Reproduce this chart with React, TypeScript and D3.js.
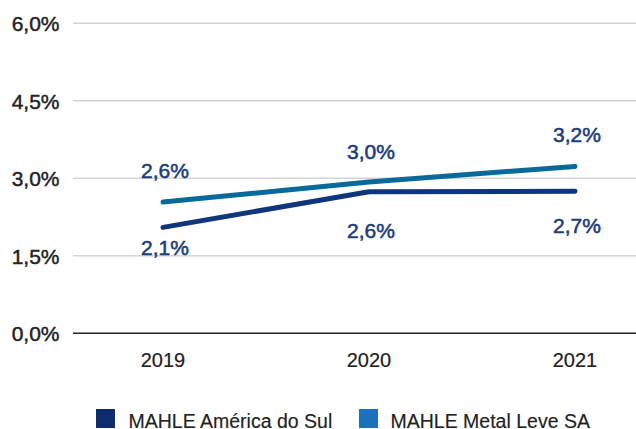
import React from "react";
import * as d3 from "d3";

const years = ["2019", "2020", "2021"];
const americaDoSul = [2.05, 2.74, 2.75];
const metalLeve = [2.54, 2.93, 3.23];
const americaLabels = ["2,1%", "2,6%", "2,7%"];
const metalLabels = ["2,6%", "3,0%", "3,2%"];
const yTicks = [0, 1.5, 3, 4.5, 6];
const seriesNames = ["MAHLE América do Sul", "MAHLE Metal Leve SA"];

const W = 636;
const H = 429;
const FONT = "'Liberation Sans', Arial, Helvetica, sans-serif";
const NAVY = "#0f367a";
const TEAL = "#08699b";
const LABEL = "#1a3d7c";
const americaLabelDy = [28, 46, 42];
const metalLabelDy = [-24, -23, -24];

export default function App() {
  const x = d3.scalePoint<string>().domain(years).range([163, 575]);
  const y = d3.scaleLinear().domain([0, 6]).range([333.3, 23.3]);
  const line = d3
    .line<number>()
    .x((_, i) => x(years[i]) as number)
    .y((d) => y(d));
  const fmt = (v: number) => d3.format(".1f")(v).replace(".", ",") + "%";

  return (
    <svg
      width={W}
      height={H}
      style={{ position: "absolute", left: 0, top: 0, background: "#fff" }}
      fontFamily={FONT}
    >
      {yTicks.map((t) => (
        <g key={t}>
          <line
            x1={73}
            x2={W}
            y1={y(t)}
            y2={y(t)}
            stroke={t === 0 ? "#222" : "#d4d4d4"}
            strokeWidth={t === 0 ? 1.6 : 1.4}
          />
          <text
            x={59.5}
            y={y(t) + 8}
            textAnchor="end"
            fontSize={21}
            fill="#222"
            stroke="#222"
            strokeWidth={0.45}
          >
            {fmt(t)}
          </text>
        </g>
      ))}
      {years.map((yr) => (
        <text
          key={yr}
          x={x(yr) as number}
          y={367}
          textAnchor="middle"
          fontSize={20}
          fill="#222"
          stroke="#222"
          strokeWidth={0.2}
        >
          {yr}
        </text>
      ))}
      <path
        d={line(metalLeve) || ""}
        fill="none"
        stroke={TEAL}
        strokeWidth={5}
        strokeLinecap="round"
        strokeLinejoin="round"
      />
      <path
        d={line(americaDoSul) || ""}
        fill="none"
        stroke={NAVY}
        strokeWidth={5}
        strokeLinecap="round"
        strokeLinejoin="round"
      />
      {metalLeve.map((v, i) => (
        <text
          key={"m" + i}
          x={(x(years[i]) as number) + 2}
          y={y(v) + metalLabelDy[i]}
          textAnchor="middle"
          fontSize={21}
          fill={LABEL}
          stroke={LABEL}
          strokeWidth={0.55}
        >
          {metalLabels[i]}
        </text>
      ))}
      {americaDoSul.map((v, i) => (
        <text
          key={"a" + i}
          x={(x(years[i]) as number) + 2}
          y={y(v) + americaLabelDy[i]}
          textAnchor="middle"
          fontSize={21}
          fill={LABEL}
          stroke={LABEL}
          strokeWidth={0.55}
        >
          {americaLabels[i]}
        </text>
      ))}
      <rect x={96} y={409} width={19} height={19} fill="#0e2b6b" />
      <text x={128.5} y={427.5} fontSize={19.5} fill="#222" stroke="#222" strokeWidth={0.15}>
        {seriesNames[0]}
      </text>
      <rect x={359} y={409} width={19} height={19} fill="#1a73bc" />
      <text x={390.5} y={427.5} fontSize={19.5} fill="#222" stroke="#222" strokeWidth={0.15}>
        {seriesNames[1]}
      </text>
    </svg>
  );
}
